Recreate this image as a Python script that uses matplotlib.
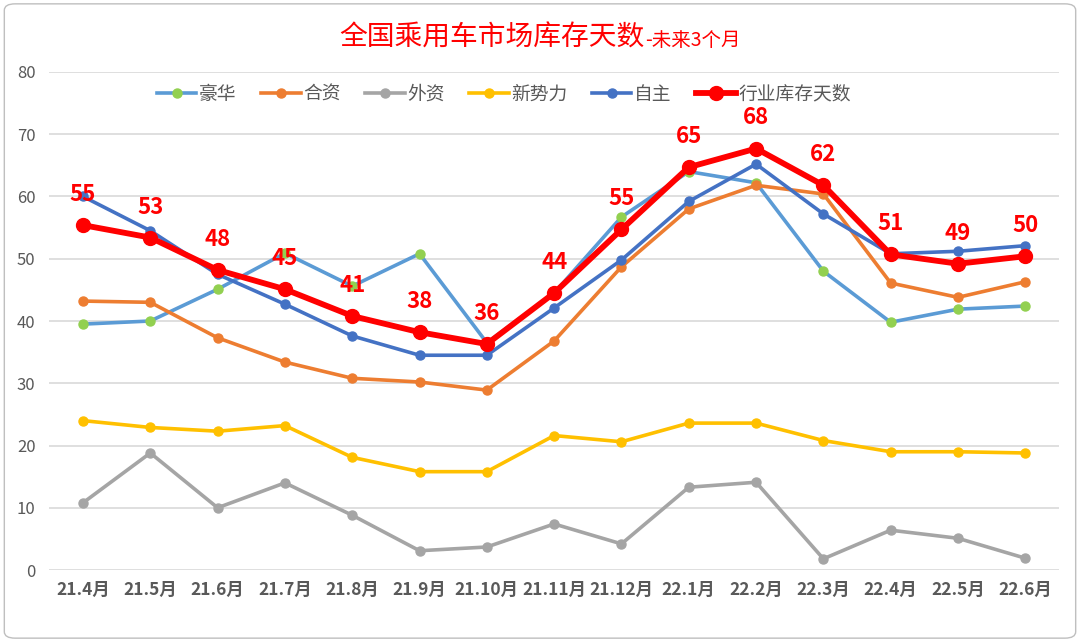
import matplotlib.pyplot as plt
from matplotlib.patches import FancyBboxPatch
import numpy as np

plt.rcParams['font.family'] = ['Noto Sans CJK SC', 'DejaVu Sans']

months = ["21.4月", "21.5月", "21.6月", "21.7月", "21.8月", "21.9月", "21.10月", "21.11月",
          "21.12月", "22.1月", "22.2月", "22.3月", "22.4月", "22.5月", "22.6月"]

luxury = [39.5, 40.0, 45.1, 50.9, 45.6, 50.8, 36.5, 44.5, 56.7, 64.0, 62.2, 48.0, 39.8, 41.9, 42.4]
jv = [43.2, 43.0, 37.3, 33.4, 30.8, 30.2, 28.9, 36.8, 48.7, 58.0, 61.8, 60.4, 46.1, 43.8, 46.3]
foreign = [10.8, 18.8, 10.0, 14.0, 8.8, 3.1, 3.7, 7.4, 4.2, 13.3, 14.1, 1.8, 6.4, 5.1, 1.9]
new_force = [24.0, 22.9, 22.3, 23.2, 18.1, 15.8, 15.8, 21.6, 20.6, 23.6, 23.6, 20.8, 19.0, 19.0, 18.8]
domestic = [60.0, 54.5, 47.5, 42.7, 37.6, 34.5, 34.5, 42.1, 49.8, 59.2, 65.2, 57.2, 50.8, 51.2, 52.1]
industry = [55.4, 53.4, 48.2, 45.1, 40.8, 38.2, 36.3, 44.5, 54.7, 64.7, 67.7, 61.8, 50.7, 49.2, 50.4]

x = np.arange(len(months))

fig = plt.figure(figsize=(10.8, 6.42), dpi=100)
ax = fig.add_axes([0.0457, 0.1121, 0.9348, 0.7758])

ax.plot(x, luxury, color="#5B9BD5", lw=2.6, marker="o", ms=6.5,
        mfc="#92D050", mec="#92D050", label="豪华", zorder=3)
ax.plot(x, jv, color="#ED7D31", lw=2.6, marker="o", ms=6.5, label="合资", zorder=3)
ax.plot(x, foreign, color="#A5A5A5", lw=2.6, marker="o", ms=6.5, label="外资", zorder=3)
ax.plot(x, new_force, color="#FFC000", lw=2.6, marker="o", ms=6.5, label="新势力", zorder=3)
ax.plot(x, domestic, color="#4472C4", lw=2.6, marker="o", ms=6.5, label="自主", zorder=4)
ax.plot(x, industry, color="#FF0000", lw=4.2, marker="o", ms=10, label="行业库存天数", zorder=5)

for xi, v in zip(x, industry):
    ax.annotate(f"{v:.0f}", (xi, v), xytext=(0, 22), textcoords="offset points",
                ha="center", va="center", color="#FF0000", fontsize=16,
                fontweight="bold", zorder=6)

ax.set_xlim(-0.5, 14.5)
ax.set_ylim(0, 80)
ax.set_yticks(range(0, 81, 10))
ax.set_xticks(x)
ax.set_xticklabels(months, fontsize=12.5, fontweight="bold", color="#595959")
ax.tick_params(axis="y", labelsize=12, colors="#595959", length=0, pad=10)
ax.tick_params(axis="x", length=0, pad=8)
ax.grid(axis="y", color="#D9D9D9", lw=1.2)
ax.set_axisbelow(True)
for s in ax.spines.values():
    s.set_visible(False)

ax.legend(loc="upper left", bbox_to_anchor=(0.09, 1.01), ncol=6, frameon=False,
          fontsize=13.5, handlelength=2.1, columnspacing=1.3, handletextpad=0.15,
          labelcolor="#595959")

fig.text(645 / 1080, 1 - 38 / 642, "全国乘用车市场库存天数", ha="right", va="center",
         color="#FF0000", fontsize=20)
fig.text(645 / 1080, 1 - 40 / 642, "-未来3个月", ha="left", va="center",
         color="#FF0000", fontsize=14)

border = FancyBboxPatch((0.004, 0.006), 0.992, 0.988, boxstyle="round,pad=0,rounding_size=0.01",
                        transform=fig.transFigure, fill=False, ec="#BFBFBF", lw=1.0)
fig.patches.append(border)

fig.savefig("out.png", dpi=100)
